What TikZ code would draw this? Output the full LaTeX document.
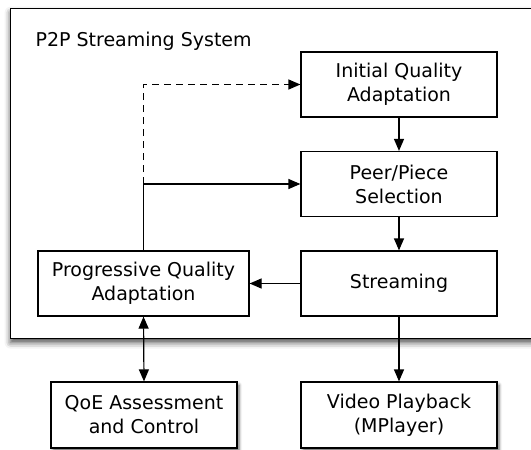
\documentclass[tikz,border=0pt]{standalone}
\usepackage{fontspec}
\setmainfont{DejaVu Sans}
\usetikzlibrary{arrows.meta,shadows.blur}
\begin{document}
\begin{tikzpicture}[x=1pt,y=-1pt,
  font=\fontsize{19}{24}\selectfont,
  line width=1.2pt,
  box/.style={draw, fill=white, minimum width=196pt, minimum height=65pt, align=center, inner sep=0pt},
  arr/.style={-{Triangle[length=12pt,width=10pt]}},
  darr/.style={{Triangle[length=12pt,width=10pt]}-{Triangle[length=12pt,width=10pt]}},
  shad/.style={blur shadow={shadow xshift=2pt, shadow yshift=-3pt, shadow blur radius=3pt, shadow opacity=60}}]
\useasboundingbox (0,0) rectangle (531,450);
\clip (0,0) rectangle (531,450);
\node[draw, fill=white, anchor=north west, minimum width=560pt, minimum height=330pt, inner sep=0pt,
  blur shadow={shadow xshift=0pt, shadow yshift=-4pt, shadow blur radius=6pt, shadow opacity=70}] (sys) at (10,8) {};
\node[anchor=west, inner sep=0pt] (title) at (35,41) {P2P Streaming System};
\node[box] (init) at (399,84.5) {Initial Quality\\Adaptation};
\node[box] (peer) at (399,184) {Peer/Piece\\Selection};
\node[box] (stream) at (399,283.5) {Streaming};
\node[box, minimum width=211pt] (prog) at (143.5,283.5) {Progressive Quality\\Adaptation};
\node[box, minimum width=186pt, minimum height=66pt, shad] (qoe) at (144,415) {QoE Assessment\\and Control};
\node[box, minimum height=66pt, shad] (video) at (399,415) {Video Playback\\(MPlayer)};
\coordinate (j) at (prog.north |- peer.west);
\draw[arr] (init) -- (peer);
\draw[arr] (peer) -- (stream);
\draw[arr] (stream) -- (prog);
\draw[arr] (stream) -- (video);
\draw (prog.north) -- (j);
\draw[arr] (j) -- (peer.west);
\draw[arr, dash pattern=on 7pt off 5pt] (j) |- (init.west);
\draw[darr] (prog.south) -- (qoe.north);
\end{tikzpicture}
\end{document}
